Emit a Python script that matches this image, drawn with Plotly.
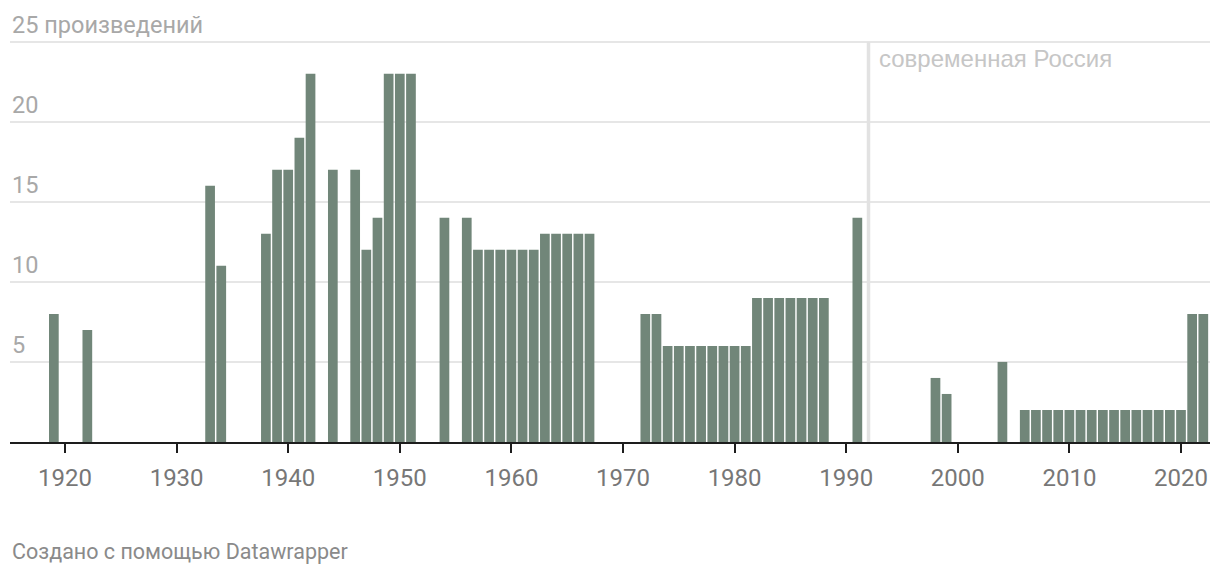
import plotly.graph_objects as go

years = [1919, 1922, 1933, 1934, 1938, 1939, 1940, 1941, 1942, 1944, 1946, 1947, 1948,
         1949, 1950, 1951, 1954, 1956, 1957, 1958, 1959, 1960, 1961, 1962, 1963, 1964,
         1965, 1966, 1967, 1972, 1973, 1974, 1975, 1976, 1977, 1978, 1979, 1980, 1981,
         1982, 1983, 1984, 1985, 1986, 1987, 1988, 1991, 1998, 1999, 2004, 2006, 2007,
         2008, 2009, 2010, 2011, 2012, 2013, 2014, 2015, 2016, 2017, 2018, 2019, 2020,
         2021, 2022]
works = [8, 7, 16, 11, 13, 17, 17, 19, 23, 17, 17, 12, 14,
         23, 23, 23, 14, 14, 12, 12, 12, 12, 12, 12, 13, 13,
         13, 13, 13, 8, 8, 6, 6, 6, 6, 6, 6, 6, 6,
         9, 9, 9, 9, 9, 9, 9, 14, 4, 3, 5, 2, 2,
         2, 2, 2, 2, 2, 2, 2, 2, 2, 2, 2, 2, 2,
         8, 8]

x_ticks = [1920, 1930, 1940, 1950, 1960, 1970, 1980, 1990, 2000, 2010, 2020]
y_ticks = [5, 10, 15, 20, 25]
y_tick_labels = ["5", "10", "15", "20", "25 произведений"]
y_max = 25

marker_year = 1992
marker_label = "современная Россия"
credit = "Создано с помощью Datawrapper"

# the page body has an 8px margin; margins below compensate for it
fig = go.Figure()
fig.add_trace(go.Bar(x=years, y=works, marker=dict(color="#718679", line=dict(width=0)),
                     hoverinfo="x+y"))

fig.add_shape(type="line", xref="x", yref="y", x0=marker_year, x1=marker_year, y0=0, y1=y_max,
              line=dict(color="#e2e2e2", width=3.5), layer="above")
fig.add_annotation(x=marker_year, y=y_max, xref="x", yref="y", text=marker_label,
                   showarrow=False, xanchor="left", yanchor="top", xshift=8, yshift=-1,
                   font=dict(family="Liberation Sans, Arial", size=24, color="#c6c6c6"))
for v, t in zip(y_ticks, y_tick_labels):
    fig.add_annotation(x=0, y=v, xref="paper", yref="y", text=t, showarrow=False,
                       xanchor="left", yanchor="bottom", xshift=0, yshift=1,
                       font=dict(family="Roboto", size=23.5, color="#a8a8a8"))
fig.add_annotation(x=0, y=0, xref="paper", yref="paper", text=credit, showarrow=False,
                   xanchor="left", yanchor="middle", yshift=-109,
                   font=dict(family="Roboto", size=21.5, color="#8a8a8a"))

fig.update_layout(
    width=1220, height=574,
    margin=dict(l=2, r=18, t=2, b=140),
    paper_bgcolor="white", plot_bgcolor="white",
    bargap=0.13, showlegend=False,
    font=dict(family="Roboto"),
)
fig.update_xaxes(range=[1915.07, 2022.6], tickvals=x_ticks, ticks="outside", ticklen=9,
                 tickwidth=2, tickcolor="#1d1d1d", showline=True, linecolor="#1d1d1d",
                 linewidth=2, showgrid=False, zeroline=False, automargin=False,
                 tickfont=dict(family="Roboto", size=24, color="#777777"),
                 ticklabelstandoff=4)
fig.update_yaxes(range=[0, 26.98], tickvals=y_ticks, showticklabels=False,
                 showgrid=True, gridcolor="#e6e6e6",
                 gridwidth=1.5, zeroline=False, ticks="", automargin=False)

fig.write_html("out.html")
